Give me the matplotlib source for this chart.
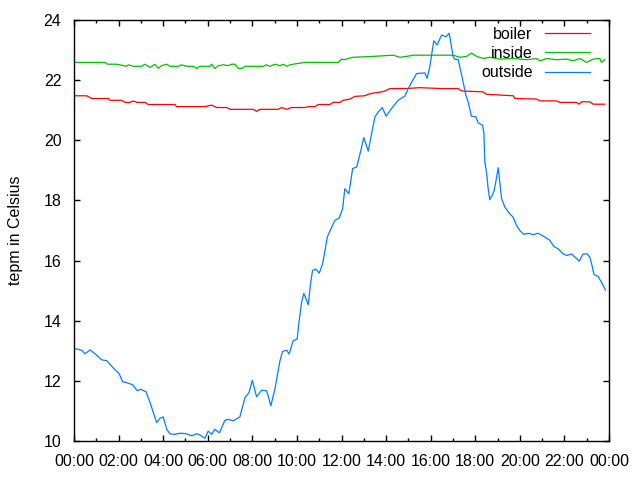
import matplotlib
matplotlib.use('Agg')
import matplotlib.pyplot as plt
from matplotlib.ticker import MultipleLocator

plt.rcParams['font.family'] = ['Liberation Sans', 'DejaVu Sans']

# time of day in hours, temperature in Celsius
boiler_t = [0.0, 0.57, 0.79, 1.54, 1.61, 2.14, 2.29, 2.51, 2.66, 2.81, 3.18, 3.33, 4.53,
            4.60, 5.87, 6.17, 6.40, 6.85, 7.0, 8.04, 8.19, 8.34, 9.16, 9.31, 9.54, 9.76,
            10.36, 10.51, 10.81, 10.96, 11.48, 11.63, 11.93, 12.08, 12.38, 12.60, 13.05,
            13.20, 13.42, 13.80, 13.95, 14.17, 14.92, 15.5, 16.5, 17.23, 17.39, 18.35,
            18.50, 19.70, 19.78, 20.75, 20.90, 21.65, 21.79, 22.54, 22.66, 22.77, 23.14,
            23.29, 23.81]
boiler_v = [21.48, 21.48, 21.39, 21.39, 21.33, 21.33, 21.26, 21.26, 21.31, 21.26, 21.26, 21.19, 21.19,
            21.12, 21.12, 21.17, 21.09, 21.09, 21.03, 21.03, 20.96, 21.03, 21.03, 21.09, 21.03, 21.09,
            21.09, 21.12, 21.12, 21.19, 21.19, 21.26, 21.26, 21.33, 21.37, 21.46, 21.48,
            21.53, 21.57, 21.61, 21.64, 21.72, 21.72, 21.75, 21.72, 21.72, 21.64, 21.61,
            21.53, 21.48, 21.39, 21.37, 21.31, 21.31, 21.26, 21.26, 21.2, 21.28, 21.28,
            21.2, 21.2]

inside_t = [0.0, 1.39, 1.5, 1.91, 2.36, 2.44, 2.66, 3.03, 3.18, 3.41, 3.63, 3.78, 3.93,
            4.16, 4.30, 4.68, 4.83, 5.05, 5.35, 5.50, 5.65, 6.10, 6.17, 6.32, 6.47, 6.70,
            6.92, 7.07, 7.22, 7.37, 7.52, 7.67, 8.49, 8.64, 8.79, 9.01, 9.24, 9.39, 9.54,
            9.69, 9.83, 10.36, 11.85, 12.0, 12.15, 12.30, 12.53, 13.42, 14.32, 14.62,
            14.92, 15.22, 17.01, 17.31, 17.61, 17.83, 18.06, 18.35, 18.65, 19.10, 19.70,
            20.30, 20.75, 20.90, 21.20, 21.65, 22.09, 22.39, 22.69, 22.99, 23.29, 23.59,
            23.66, 23.81]
inside_v = [22.59, 22.59, 22.53, 22.53, 22.46, 22.51, 22.46, 22.46, 22.53, 22.42, 22.53, 22.39, 22.48,
            22.53, 22.46, 22.46, 22.51, 22.46, 22.46, 22.39, 22.46, 22.46, 22.53, 22.39, 22.48, 22.51,
            22.48, 22.53, 22.53, 22.39, 22.39, 22.46, 22.46, 22.51, 22.46, 22.53, 22.48, 22.53, 22.46,
            22.51, 22.53, 22.59, 22.59, 22.70, 22.68, 22.72, 22.76, 22.79, 22.83, 22.76,
            22.79, 22.83, 22.83, 22.76, 22.79, 22.9, 22.79, 22.72, 22.76, 22.70, 22.72,
            22.68, 22.72, 22.64, 22.72, 22.68, 22.70, 22.64, 22.72, 22.59, 22.70, 22.72,
            22.59, 22.68]

outside_t = [0.04, 0.35, 0.49, 0.72, 0.94, 1.24, 1.47, 1.76, 2.03, 2.18, 2.36, 2.63, 2.84,
             2.99, 3.23, 3.41, 3.56, 3.71, 3.86, 4.0, 4.16, 4.30, 4.53, 4.75, 5.05, 5.28,
             5.50, 5.65, 5.87, 6.02, 6.17, 6.32, 6.52, 6.77, 6.92, 7.14, 7.44, 7.67, 7.85,
             8.0, 8.19, 8.42, 8.64, 8.71, 8.83, 9.01, 9.24, 9.36, 9.54, 9.65, 9.83, 10.01,
             10.10, 10.21, 10.31, 10.51, 10.61, 10.70, 10.85, 11.0, 11.15, 11.26, 11.36,
             11.56, 11.70, 11.90, 12.05, 12.15, 12.33, 12.50, 12.68, 12.87, 13.0, 13.20,
             13.35, 13.50, 13.65, 13.83, 14.0, 14.25, 14.54, 14.84, 15.07, 15.37, 15.74,
             15.84, 15.96, 16.14, 16.29, 16.49, 16.68, 16.83, 17.01, 17.09, 17.23, 17.39,
             17.58, 17.68, 17.83, 18.03, 18.13, 18.33, 18.39, 18.43, 18.51, 18.58, 18.65,
             18.76, 18.85, 18.92, 19.03, 19.10, 19.18, 19.33, 19.52, 19.70, 19.85, 20.0,
             20.18, 20.37, 20.60, 20.82, 21.12, 21.35, 21.52, 21.72, 21.94, 22.12, 22.32,
             22.51, 22.66, 22.84, 23.02, 23.14, 23.24, 23.33, 23.51, 23.66, 23.84]
outside_v = [13.07, 13.02, 12.9, 13.03, 12.9, 12.7, 12.67, 12.43, 12.23, 11.97, 11.94, 11.87, 11.67,
             11.72, 11.64, 11.28, 10.94, 10.61, 10.76, 10.8, 10.39, 10.24, 10.22, 10.26, 10.24, 10.17,
             10.24, 10.2, 10.09, 10.33, 10.22, 10.39, 10.27, 10.69, 10.72, 10.67, 10.8, 11.44, 11.61,
             12.02, 11.47, 11.69, 11.67, 11.5, 11.17, 11.72, 12.67, 12.98, 13.02, 12.89, 13.33, 13.39,
             14.0, 14.61, 14.91, 14.53, 15.22, 15.67, 15.72, 15.58, 15.89, 16.33, 16.78,
             17.11, 17.33, 17.42, 17.72, 18.39, 18.22, 19.06, 19.11, 19.67, 20.09, 19.64,
             20.22, 20.78, 20.94, 21.09, 20.8, 21.06, 21.33, 21.47, 21.83, 22.22, 22.24,
             22.06, 22.44, 23.31, 23.17, 23.5, 23.44, 23.56, 22.78, 22.69, 22.69, 22.17,
             21.5, 21.28, 20.8, 20.78, 20.58, 20.5, 20.22, 19.28, 18.91, 18.39, 18.02,
             18.17, 18.33, 18.61, 19.09, 18.61, 18.06, 17.78, 17.58, 17.44, 17.17, 17.0,
             16.87, 16.91, 16.86, 16.91, 16.78, 16.67, 16.47, 16.39, 16.22, 16.17, 16.22,
             16.09, 15.98, 16.22, 16.22, 16.11, 15.83, 15.53, 15.47, 15.28, 15.02]

tick_hours = list(range(0, 25, 2))
tick_labels = ['00:00', '02:00', '04:00', '06:00', '08:00', '10:00', '12:00',
               '14:00', '16:00', '18:00', '20:00', '22:00', '00:00']

fs = 11.5

fig = plt.figure(figsize=(6.4, 4.8), dpi=100)
ax = fig.add_axes([74/640, 1-441/480, 535/640, 421/480])

ax.plot(boiler_t, boiler_v, color='#ff0000', lw=0.9, label='boiler')
ax.plot(inside_t, inside_v, color='#00c000', lw=0.9, label='inside')
ax.plot(outside_t, outside_v, color='#0080ff', lw=0.9, label='outside')

ax.set_xlim(0, 24)
ax.set_ylim(10, 24)
ax.set_xticks(tick_hours)
ax.set_xticklabels(tick_labels)
ax.xaxis.set_minor_locator(MultipleLocator(1))
ax.set_yticks(range(10, 25, 2))
ax.tick_params(which='both', direction='in', top=True, right=True, labelsize=fs, width=1)
ax.tick_params(which='major', length=4, pad=9)
ax.tick_params(which='minor', length=2)
for s in ax.spines.values():
    s.set_linewidth(1)

ax.set_ylabel('tepm in Celsius', fontsize=fs, labelpad=15)

ax.legend(loc='upper right', bbox_to_anchor=(0.9645, 0.984), frameon=False,
          markerfirst=False, fontsize=fs, handlelength=2.8, handletextpad=0.8,
          labelspacing=0.27, borderpad=0, borderaxespad=0)

fig.savefig('out.png', dpi=100)
